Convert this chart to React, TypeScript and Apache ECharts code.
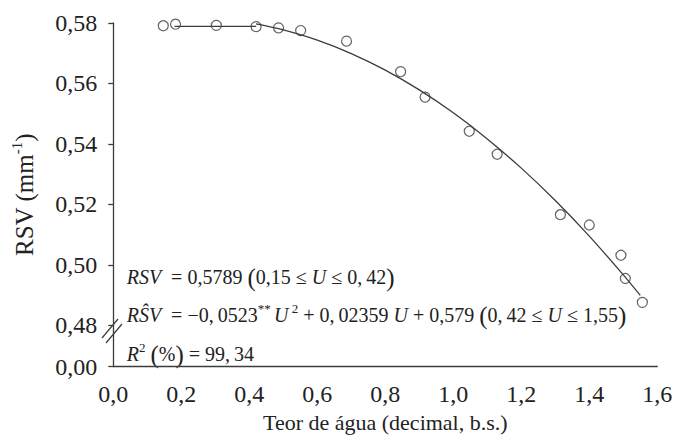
import React, { useEffect, useRef } from 'react';
import * as echarts from 'echarts';

// Observed data: moisture content (decimal, d.b.) vs RSV (mm^-1)
const moisture = [0.147, 0.183, 0.303, 0.42, 0.486, 0.551, 0.686, 0.845, 0.917, 1.047, 1.129, 1.315, 1.4, 1.493, 1.506, 1.556];
const rsv = [0.5791, 0.5796, 0.5792, 0.5788, 0.5784, 0.5775, 0.574, 0.5639, 0.5555, 0.5442, 0.5366, 0.5166, 0.5132, 0.5032, 0.4955, 0.4876];

// Fitted model
const flatFitU = [0.18, 0.42];
const flatFitRsv = [0.5789, 0.5789];
const curveFitU = [0.42, 0.5, 0.6, 0.7, 0.8, 0.9, 1.0, 1.1, 1.2, 1.3, 1.4, 1.5, 1.55];
const curveFitRsv = [0.57968, 0.57772, 0.57433, 0.56989, 0.5644, 0.55787, 0.55029, 0.54167, 0.532, 0.52128, 0.50952, 0.49671, 0.48991];

// Broken y axis: bottom of the plot stands for 0,00
const yAxisBottom = 0.4664;
const yTickValues = [0.4664, 0.48, 0.5, 0.52, 0.54, 0.56, 0.58];
const yTickLabels = ['0,00', '0,48', '0,50', '0,52', '0,54', '0,56', '0,58'];

const FONT = '"Liberation Serif", "Times New Roman", serif';
const INK = '#222';
const LINE = '#3c3c3c';

export default function App() {
  const ref = useRef<HTMLDivElement>(null);
  useEffect(() => {
    document.body.style.margin = '0';
    if (!ref.current) return;
    const chart = echarts.init(ref.current, null, { renderer: 'svg' });
    const eqRich = {
      n: { fontSize: 20, fontFamily: FONT, fill: INK, lineHeight: 26 },
      i: { fontSize: 20, fontFamily: FONT, fontStyle: 'italic', fill: INK, lineHeight: 26 },
      p: { fontSize: 25, fontFamily: FONT, fill: INK, lineHeight: 26 },
      s: { fontSize: 13, fontFamily: FONT, fill: INK, lineHeight: 12, verticalAlign: 'top' },
    };
    chart.setOption({
      animation: false,
      backgroundColor: '#fff',
      grid: { left: 113.3, right: 20.7, top: 23, bottom: 77.5, containLabel: false },
      xAxis: {
        type: 'value',
        min: 0,
        max: 1.6,
        interval: 0.2,
        name: 'Teor de água (decimal, b.s.)',
        nameLocation: 'middle',
        nameGap: 45,
        nameTextStyle: { fontFamily: FONT, fontSize: 22, color: INK },
        axisLine: { lineStyle: { color: LINE, width: 1.3 } },
        axisTick: { show: false },
        splitLine: { show: false },
        axisLabel: {
          fontFamily: FONT,
          fontSize: 24,
          color: INK,
          margin: 15,
          formatter: (v: number) => v.toFixed(1).replace('.', ','),
        },
      },
      yAxis: {
        type: 'value',
        min: yAxisBottom,
        max: 0.58,
        name: '{a|RSV (mm}{s|-1}{a|)}',
        nameLocation: 'middle',
        nameGap: 74,
        nameTextStyle: {
          rich: {
            a: { fontFamily: FONT, fontSize: 25, color: INK, lineHeight: 30 },
            s: { fontFamily: FONT, fontSize: 15, color: INK, lineHeight: 14, verticalAlign: 'top' },
          },
        },
        axisLine: { show: true, lineStyle: { color: LINE, width: 1.3 } },
        axisTick: { show: true, length: 5, lineStyle: { color: LINE, width: 1.3 }, customValues: yTickValues },
        splitLine: { show: false },
        axisLabel: {
          fontFamily: FONT,
          fontSize: 24,
          color: INK,
          margin: 16,
          customValues: yTickValues,
          formatter: (v: number) => {
            const k = yTickValues.findIndex((t) => Math.abs(t - v) < 1e-6);
            return k >= 0 ? yTickLabels[k] : '';
          },
        },
      },
      graphic: [
        { type: 'line', shape: { x1: 102, y1: 338, x2: 118, y2: 319 }, style: { stroke: LINE, lineWidth: 1.2 } },
        { type: 'line', shape: { x1: 106, y1: 343, x2: 122, y2: 324 }, style: { stroke: LINE, lineWidth: 1.2 } },
        {
          type: 'text',
          x: 126.7,
          y: 277,
          style: {
            text: '{i|RSV}{n|  = 0,5789 }{p|(}{n|0,15 ≤ }{i|U}{n| ≤ 0,\u200942}{p|)}',
            rich: eqRich,
            verticalAlign: 'middle',
          },
        },
        {
          type: 'text',
          x: 126.7,
          y: 315,
          style: {
            text: '{i|RŜV}{n|  = −0,\u20090523}{s|**} {i|U}{s| 2}{n| + 0,\u200902359 }{i|U}{n| + 0,579 }{p|(}{n|0,\u200942 ≤ }{i|U}{n| ≤ 1,55}{p|)}',
            rich: eqRich,
            verticalAlign: 'middle',
          },
        },
        {
          type: 'text',
          x: 126.7,
          y: 354,
          style: {
            text: '{i|R}{s|2}{n| }{p|(}{n|%}{p|)}{n| = 99,\u200934}',
            rich: eqRich,
            verticalAlign: 'middle',
          },
        },
      ],
      series: [
        {
          type: 'line',
          data: flatFitU.map((u, k) => [u, flatFitRsv[k]]),
          showSymbol: false,
          lineStyle: { color: LINE, width: 1.3 },
          z: 2,
        },
        {
          type: 'line',
          data: curveFitU.map((u, k) => [u, curveFitRsv[k]]),
          showSymbol: false,
          smooth: 0.3,
          lineStyle: { color: LINE, width: 1.3 },
          z: 2,
        },
        {
          type: 'scatter',
          data: moisture.map((u, k) => [u, rsv[k]]),
          symbol: 'circle',
          symbolSize: 10,
          itemStyle: { color: 'rgba(255,255,255,0)', borderColor: LINE, borderWidth: 1.2 },
          z: 3,
        },
      ],
    });
    return () => chart.dispose();
  }, []);
  return <div ref={ref} style={{ width: 678, height: 444 }} />;
}
